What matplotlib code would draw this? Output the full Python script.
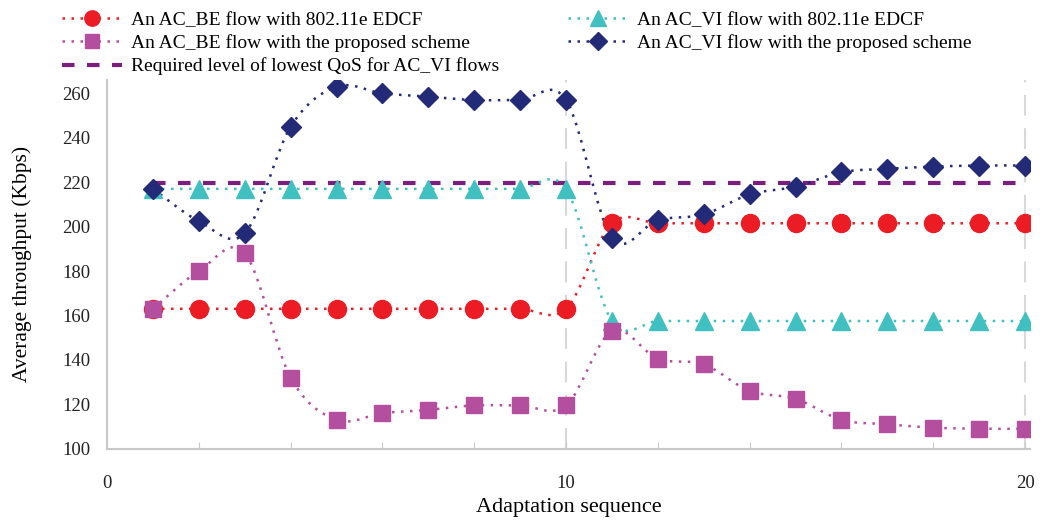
import matplotlib
matplotlib.use('Agg')
import matplotlib.pyplot as plt
from matplotlib.path import Path
from matplotlib.patches import PathPatch
from matplotlib.lines import Line2D
import numpy as np

plt.rcParams['font.family'] = ['Liberation Serif', 'DejaVu Serif']

## data
seq = list(range(1, 21))
be_edcf = [163] * 10 + [201.5] * 10
vi_edcf = [217] * 10 + [157.5] * 10
be_prop = [163, 180, 188, 132, 113, 116, 117.5, 119.5, 119.5, 119.5,
           153, 140.5, 138, 126, 122.5, 113, 111, 109.5, 109, 109]
vi_prop = [217, 202.5, 197, 245, 263, 260, 258.5, 257, 257, 257,
           195, 203, 205.5, 214.5, 218, 224.5, 226, 227, 227.5, 227.5]
qos_level = 219.5

labels = ['An AC_BE flow with 802.11e EDCF',
          'An AC_BE flow with the proposed scheme',
          'Required level of lowest QoS for AC_VI flows',
          'An AC_VI flow with 802.11e EDCF',
          'An AC_VI flow with the proposed scheme']


def smooth_path(xs, ys):
    # excel-like smoothed line: catmull-rom turned into bezier segments
    xs = np.asarray(xs, float)
    ys = np.asarray(ys, float)
    pts = np.column_stack([xs, ys])
    verts = [pts[0]]
    codes = [Path.MOVETO]
    n = len(pts)
    for i in range(n - 1):
        p0 = pts[i - 1] if i > 0 else pts[i]
        p1 = pts[i]
        p2 = pts[i + 1]
        p3 = pts[i + 2] if i + 2 < n else pts[i + 1]
        c1 = p1 + (p2 - p0) / 6.0
        c2 = p2 - (p3 - p1) / 6.0
        verts += [c1, c2, p2]
        codes += [Path.CURVE4] * 3
    return Path(verts, codes)


fig = plt.figure(figsize=(10.4, 5.23), dpi=100)
ax = fig.add_axes([0.103, 0.142, 0.887, 0.705])

series = [
    (be_edcf, '#ec1c24', 'o', 13),
    (vi_edcf, '#40c0c0', '^', 13),
    (be_prop, '#b44f9f', 's', 12),
    (vi_prop, '#232a78', 'D', 10.5),
]
handles = {}
for ys, col, mk, ms in series:
    patch = PathPatch(smooth_path(seq, ys), facecolor='none', edgecolor=col,
                      lw=1.8, linestyle=(0, (1, 2.6)), zorder=2)
    ax.add_patch(patch)
    ax.plot(seq, ys, linestyle='none', marker=mk, ms=ms, color=col,
            markeredgecolor=col, zorder=3)
    handles[mk] = Line2D([], [], color=col, lw=1.8, linestyle=(0, (1, 2.6)),
                         marker=mk, ms=ms * 0.85)

qos_line, = ax.plot([1, 20], [qos_level, qos_level], color='#7b1f7e',
                    lw=3, linestyle=(0, (3, 3)), zorder=1)

## axes config
ax.set_xlim(0, 20.1)
ax.set_ylim(100, 266)
ax.set_yticks(range(100, 261, 20))
ax.set_xticks(range(0, 21, 2))
ax.set_xticklabels(['0', '', '', '', '', '10', '', '', '', '', '20'])
ax.tick_params(axis='y', length=0, labelsize=13.5, pad=12, colors='#222222')
ax.tick_params(axis='x', direction='in', length=5, color='#c8c8c8',
               labelsize=13.5, pad=19, labelcolor='#222222')
for s in ['top', 'right']:
    ax.spines[s].set_visible(False)
for s in ['left', 'bottom']:
    ax.spines[s].set_color('#c8c8c8')
    ax.spines[s].set_linewidth(1.5)
for xv in [10, 20]:
    ax.axvline(xv, color='#d8d8d8', lw=1.5, linestyle=(0, (10, 6)), zorder=0)

ax.set_xlabel('Adaptation sequence', fontsize=16, labelpad=4)
ax.set_ylabel('Average throughput (Kbps)', fontsize=15.5, labelpad=22)

leg_handles = [handles['o'], handles['s'], qos_line, handles['^'], handles['D']]
fig.legend(leg_handles, labels, loc='upper left', bbox_to_anchor=(0.043, 1.012),
           ncol=2, frameon=False, fontsize=14, handlelength=3.1,
           columnspacing=3.5, labelspacing=0.28, handletextpad=0.45)

fig.savefig('out.png', dpi=100)
